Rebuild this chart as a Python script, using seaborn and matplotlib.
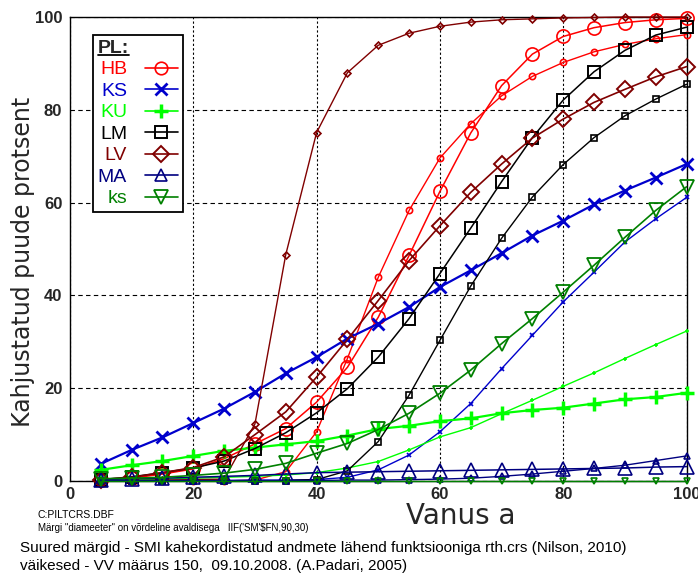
import numpy as np
import pandas as pd
import matplotlib
matplotlib.use("Agg")
import matplotlib.pyplot as plt
import seaborn as sns
from matplotlib.lines import Line2D
from matplotlib.legend_handler import HandlerLine2D

# ---------------- data ----------------
age = [5, 10, 15, 20, 25, 30, 35, 40, 45, 50, 55, 60, 65, 70, 75, 80, 85, 90, 95, 100]
species = ["HB", "KS", "KU", "LM", "LV", "MA", "ks"]

# large markers: SMI (doubled data, rth.crs approximation)
smi_HB = [0.2, 0.6, 1.5, 2.6, 4.8, 8.0, 11.3, 17.0, 24.5, 35.3, 48.6, 62.4, 75.0, 85.2, 92.0, 95.8, 97.7, 98.8, 99.4, 99.7]
smi_KS = [3.7, 6.7, 9.4, 12.5, 15.6, 19.2, 23.2, 26.7, 30.7, 33.9, 37.5, 41.8, 45.4, 49.1, 52.9, 56.1, 59.6, 62.6, 65.4, 68.3]
smi_KU = [2.4, 3.4, 4.3, 5.4, 6.5, 7.2, 7.9, 8.6, 9.8, 11.2, 11.9, 12.9, 13.5, 14.6, 15.3, 15.8, 16.7, 17.6, 18.1, 19.0]
smi_LM = [0.3, 0.9, 1.8, 2.8, 4.3, 7.0, 10.4, 14.7, 19.9, 26.7, 35.0, 44.7, 54.5, 64.5, 74.0, 82.1, 88.2, 92.8, 96.1, 97.8]
smi_LV = [0.3, 0.8, 1.8, 2.9, 5.2, 10.0, 14.9, 22.4, 30.5, 38.9, 47.5, 55.0, 62.2, 68.3, 73.9, 78.0, 81.6, 84.4, 87.1, 89.3]
smi_MA = [0.3, 0.5, 0.6, 0.8, 1.0, 1.2, 1.5, 1.8, 1.9, 2.0, 2.1, 2.2, 2.3, 2.4, 2.5, 2.6, 2.7, 2.8, 3.0, 3.1]
smi_ks = [0.5, 0.6, 0.8, 1.2, 1.7, 2.5, 3.8, 6.0, 8.1, 11.1, 14.6, 18.9, 23.9, 29.6, 35.0, 40.7, 46.5, 52.5, 58.3, 63.4]

# small markers: VV regulation 150
vv_HB = [0.0, 0.0, 0.0, 0.0, 0.0, 0.2, 2.0, 10.6, 26.4, 43.9, 58.3, 69.6, 77.0, 83.0, 87.2, 90.2, 92.5, 94.1, 95.3, 96.2]
vv_KS = [0.1, 0.1, 0.1, 0.1, 0.1, 0.2, 0.2, 0.3, 0.8, 2.4, 5.6, 10.6, 16.7, 24.2, 31.4, 38.6, 45.0, 51.5, 56.5, 61.1]
vv_KU = [0.2, 0.3, 0.4, 0.6, 0.8, 1.0, 1.3, 1.8, 2.8, 4.2, 6.7, 9.5, 11.5, 14.5, 17.4, 20.4, 23.3, 26.4, 29.4, 32.3]
vv_LM = [0.0, 0.0, 0.0, 0.0, 0.0, 0.0, 0.1, 0.3, 2.2, 8.5, 18.5, 30.3, 42.0, 52.3, 61.2, 68.2, 74.0, 78.7, 82.3, 85.5]
vv_LV = [0.1, 0.1, 0.2, 0.3, 0.4, 12.3, 48.8, 75.1, 88.0, 93.9, 96.5, 98.0, 98.9, 99.4, 99.6, 99.8, 99.9, 100.0, 100.0, 100.0]
vv_MA = [0.1, 0.1, 0.1, 0.1, 0.1, 0.1, 0.1, 0.1, 0.2, 0.2, 0.3, 0.4, 0.6, 1.0, 1.5, 2.1, 2.7, 3.4, 4.4, 5.4]
vv_ks = [0.1, 0.1, 0.1, 0.1, 0.1, 0.1, 0.1, 0.1, 0.1, 0.1, 0.1, 0.1, 0.1, 0.1, 0.1, 0.1, 0.1, 0.1, 0.1, 0.1]

x_ticks = [0, 20, 40, 60, 80, 100]
y_ticks = [0, 20, 40, 60, 80, 100]

smi = {"HB": smi_HB, "KS": smi_KS, "KU": smi_KU, "LM": smi_LM, "LV": smi_LV, "MA": smi_MA, "ks": smi_ks}
vv = {"HB": vv_HB, "KS": vv_KS, "KU": vv_KU, "LM": vv_LM, "LV": vv_LV, "MA": vv_MA, "ks": vv_ks}

# ---------------- styles ----------------
colors = {"HB": "#ff0000", "KS": "#0000cc", "KU": "#00ff00", "LM": "#000000",
          "LV": "#800000", "MA": "#000080", "ks": "#008000"}
markers = {"HB": "o", "KS": "x", "KU": "+", "LM": "s", "LV": "D", "MA": "^", "ks": "v"}
big_ms = {"HB": 9.5, "KS": 9, "KU": 10, "LM": 8.5, "LV": 8.5, "MA": 9.5, "ks": 10}
big_mew = {"HB": 1.2, "KS": 2.0, "KU": 2.5, "LM": 1.4, "LV": 1.4, "MA": 1.2, "ks": 1.3}
big_lw = {"HB": 1.1, "KS": 1.6, "KU": 1.6, "LM": 1.1, "LV": 1.2, "MA": 1.1, "ks": 1.2}
small_ms = {"HB": 4.5, "KS": 3, "KU": 3.5, "LM": 4, "LV": 3.5, "MA": 4.5, "ks": 4.5}

W, H = 698, 573
sns.set_theme(style="white")
plt.rcParams["font.family"] = ["Liberation Sans", "DejaVu Sans"]

fig = plt.figure(figsize=(W / 100, H / 100), dpi=100)
ax = fig.add_axes([70 / W, 1 - 481 / H, 616.5 / W, 464 / H])

ax.set_xlim(0, 100)
ax.set_ylim(0, 100)
ax.set_xticks(x_ticks)
ax.set_yticks(y_ticks)
ax.xaxis.grid(True, color="black", linestyle=(0, (2, 2)), linewidth=0.8)
ax.yaxis.grid(True, color="black", linestyle=(0, (4, 3)), linewidth=0.8)
ax.set_axisbelow(True)
for s in ax.spines.values():
    s.set_color("black")
    s.set_linewidth(1.0)
ax.tick_params(axis="both", length=0, labelsize=12)
ax.tick_params(axis="x", pad=4.5)
ax.tick_params(axis="y", pad=5.5)
for lab in ax.get_xticklabels() + ax.get_yticklabels():
    lab.set_fontweight("bold")

for sp in species:
    c = colors[sp]
    hollow = markers[sp] not in ("x", "+")
    # large markers (SMI)
    sns.lineplot(x=age, y=smi[sp], ax=ax, color=c, linewidth=big_lw[sp],
                 marker=markers[sp], markersize=big_ms[sp],
                 markerfacecolor="none" if hollow else c,
                 markeredgecolor=c, markeredgewidth=big_mew[sp],
                 clip_on=False, legend=False, zorder=3)
    # small markers (VV)
    sns.lineplot(x=age, y=vv[sp], ax=ax, color=c, linewidth=1.0,
                 marker=markers[sp], markersize=small_ms[sp],
                 markerfacecolor="none" if hollow else c,
                 markeredgecolor=c, markeredgewidth=1.2,
                 clip_on=False, legend=False, zorder=3)

ax.set_xlabel("Vanus a", fontsize=20, family="DejaVu Sans")
ax.xaxis.set_label_coords((461 - 70) / 616.5, (481 - 502) / 464)
ax.set_ylabel("Kahjustatud puude protsent", fontsize=17, family="DejaVu Sans")
ax.yaxis.set_label_coords((35 - 70) / 616.5, (481 - 262) / 464)


class EndMarkerHandler(HandlerLine2D):
    def get_xdata(self, legend, xdescent, ydescent, width, height, fontsize):
        xdata = np.array([-xdescent, -xdescent + width])
        return xdata, np.array([-xdescent + width])


handles = [Line2D([0], [0], color=colors[sp], linewidth=1.2, marker=markers[sp],
                  markersize=big_ms[sp] * 0.95,
                  markerfacecolor="none" if markers[sp] not in ("x", "+") else colors[sp],
                  markeredgecolor=colors[sp], markeredgewidth=big_mew[sp])
           for sp in species]
leg = ax.legend(handles, species, title="PL:", loc="upper left",
                bbox_to_anchor=((93 - 70) / 616.5, (481 - 35) / 464),
                markerfirst=False, frameon=True, fancybox=False, framealpha=1,
                edgecolor="black", prop={"size": 14},
                title_fontproperties={"weight": "bold", "size": 14},
                alignment="left", handlelength=1.7, handletextpad=0.9,
                labelspacing=0.2, borderpad=0.25, borderaxespad=0,
                handler_map={Line2D: EndMarkerHandler(numpoints=1)})
leg.get_frame().set_linewidth(1.3)
leg.set_zorder(5)
for t, sp in zip(leg.get_texts(), species):
    t.set_color(colors[sp])

# underline legend title
fig.canvas.draw()
bb = leg.get_title().get_window_extent()
fig.add_artist(Line2D([bb.x0, bb.x1], [bb.y0 + 1.5, bb.y0 + 1.5], transform=None,
                      color="black", linewidth=1.3, zorder=6))

narrow = ["Liberation Sans Narrow", "Liberation Sans", "DejaVu Sans"]
fig.text(38 / W, 1 - 515 / H, "C:PILTCRS.DBF", fontsize=7.5, family=narrow,
         va="center", ha="left", color="black")
fig.text(38 / W, 1 - 528 / H,
         "Märgi \"diameeter\" on võrdeline avaldisega   IIF('SM'$FN,90,30)",
         fontsize=7, family=narrow, va="center", ha="left", color="black")
fig.text(20 / W, 1 - 548 / H,
         "Suured märgid - SMI kahekordistatud andmete lähend funktsiooniga rth.crs (Nilson, 2010)",
         fontsize=11, family=narrow, va="center", ha="left", color="black")
fig.text(20 / W, 1 - 566 / H,
         "väikesed - VV määrus 150,  09.10.2008. (A.Padari, 2005)",
         fontsize=11, family=narrow, va="center", ha="left", color="black")

fig.savefig("out.png", dpi=100, facecolor="white")
